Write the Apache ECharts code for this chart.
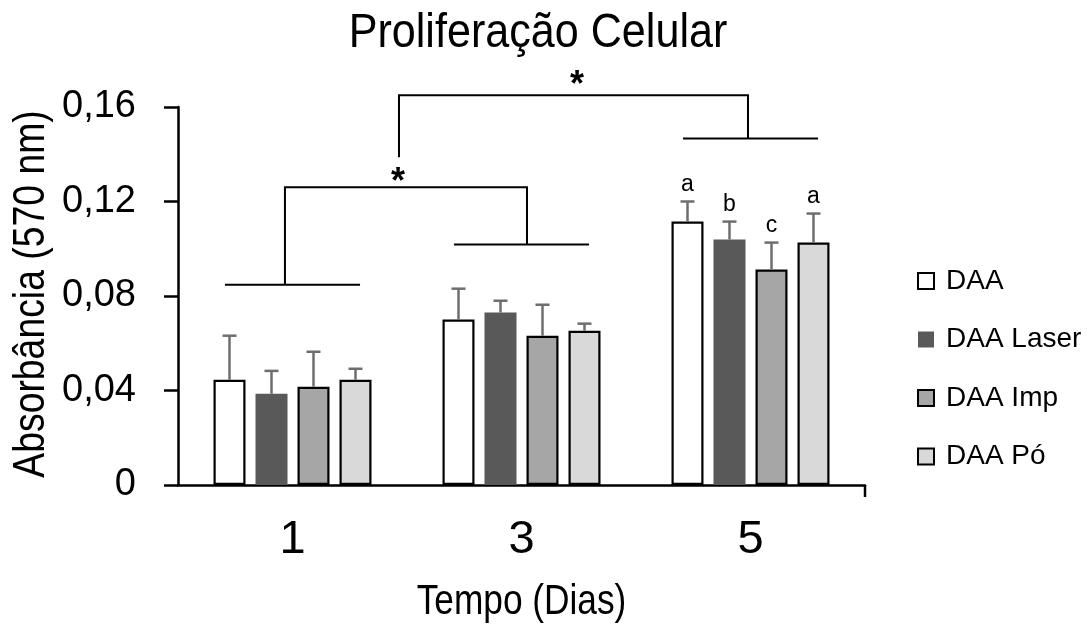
<!DOCTYPE html>
<html>
<head>
<meta charset="utf-8">
<script src="https://cdn.jsdelivr.net/npm/echarts@6/dist/echarts.min.js"></script>
<style>html,body{margin:0;padding:0;background:#fff}#c{width:1091px;height:627px}</style>
</head>
<body>
<div id="c"></div>
<script>
// ---- data ----
const categories = ['1', '3', '5'];
const seriesNames = ['DAA', 'DAA Laser', 'DAA Imp', 'DAA Pó'];
const daa      = [0.0445, 0.0700, 0.1115];
const daaLaser = [0.0386, 0.0730, 0.1039];
const daaImp   = [0.0416, 0.0632, 0.0912];
const daaPo    = [0.0445, 0.0653, 0.1026];
const errDaa      = [0.0187, 0.0131, 0.0085];
const errDaaLaser = [0.0097, 0.0050, 0.0076];
const errDaaImp   = [0.0148, 0.0131, 0.0114];
const errDaaPo    = [0.0047, 0.0030, 0.0123];
const lettersDay5 = ['a', 'b', 'c', 'a'];
const yTickLabels = ['0', '0,04', '0,08', '0,12', '0,16'];
const groupLineLevels = [0.0848, 0.1018, 0.1467];
const bracketTop1 = 0.126, star1Level = 0.1315;
const bracketTop2 = 0.165, bracket2Bottom = 0.1387, star2Level = 0.1726;
const titleText = 'Proliferação Celular';
const xName = 'Tempo (Dias)';
const yName = 'Absorbância (570 nm)';

const values = [daa, daaLaser, daaImp, daaPo];
const errs = [errDaa, errDaaLaser, errDaaImp, errDaaPo];
const colors = ['#ffffff', '#595959', '#a6a6a6', '#d9d9d9'];
const borders = [2.2, 0, 2.2, 2.2];
const REG = "'Liberation Sans', Arial, sans-serif";
const BAR_W = 32, BAR_STEP = 42;

const chart = echarts.init(document.getElementById('c'), null, {renderer: 'canvas'});

const barSeries = values.map((vals, i) => ({
  name: seriesNames[i], type: 'bar', data: vals,
  barWidth: BAR_W, barGap: ((BAR_STEP - BAR_W) / BAR_W * 100) + '%',
  itemStyle: {color: colors[i], borderColor: borders[i] ? '#000' : colors[i], borderWidth: borders[i]},
  emphasis: {disabled: true}, z: 2
}));

const errSeries = values.map((vals, i) => ({
  type: 'custom', clip: false, z: 3,
  data: vals.map((v, k) => [k, v, v + errs[i][k]]),
  renderItem: function (params, api) {
    const k = api.value(0);
    const base = api.coord([k, api.value(1)]);
    const top = api.coord([k, api.value(2)]);
    const x = base[0] + (i - 1.5) * BAR_STEP;
    const st = {stroke: '#6e6e6e', lineWidth: 2.5};
    const children = [
      {type: 'line', shape: {x1: x, y1: base[1], x2: x, y2: top[1]}, style: st},
      {type: 'line', shape: {x1: x - 7, y1: top[1], x2: x + 7, y2: top[1]}, style: st}
    ];
    const lab = k === 2 ? lettersDay5[i] : '';
    if (lab) {
      children.push({type: 'text', x: x, y: top[1] - 5,
        style: {text: lab, font: '23px ' + REG, fill: '#000', align: 'center', verticalAlign: 'bottom'}});
    }
    return {type: 'group', children: children};
  }
}));

const annotSeries = {
  type: 'custom', clip: false, z: 4, data: [[0, 0]],
  renderItem: function (params, api) {
    const band = api.size([1, 0])[0];
    const P = (cat, frac, val) => { const p = api.coord([cat, val]); return [p[0] + frac * band, p[1]]; };
    const ls = {stroke: '#000', lineWidth: 2, fill: null};
    const ch = [];
    const half = 0.295;
    groupLineLevels.forEach((lv, c) => {
      ch.push({type: 'polyline', shape: {points: [P(c, -half, lv), P(c, half, lv)]}, style: ls});
    });
    ch.push({type: 'polyline', shape: {points: [
      P(0, -0.033, groupLineLevels[0]), P(0, -0.033, bracketTop1),
      P(1, 0.024, bracketTop1), P(1, 0.024, groupLineLevels[1])]}, style: ls});
    ch.push({type: 'polyline', shape: {points: [
      P(0, 0.465, bracket2Bottom), P(0, 0.465, bracketTop2),
      P(2, -0.011, bracketTop2), P(2, -0.011, groupLineLevels[2])]}, style: ls});
    const s1 = P(0, 0.461, star1Level), s2 = P(1, 0.242, star2Level);
    [s1, s2].forEach(s => ch.push({type: 'text', x: s[0], y: s[1] + 9,
      style: {text: '*', font: 'bold 36px ' + REG, fill: '#000', align: 'center', verticalAlign: 'middle'}}));
    const e = P(2, 0.5, 0);
    ch.push({type: 'line', shape: {x1: e[0], y1: e[1], x2: e[0], y2: e[1] + 12}, style: {stroke: '#000', lineWidth: 2.5}});
    return {type: 'group', children: ch};
  }
};

chart.setOption({
  animation: false,
  backgroundColor: '#fff',
  graphic: [
    {type: 'text', x: 538, y: 33, scaleX: 0.88, silent: true,
      style: {text: titleText, font: '49px ' + REG, fill: '#000', align: 'center', verticalAlign: 'middle'}},
    {type: 'text', x: 521.5, y: 602, scaleX: 0.82, silent: true,
      style: {text: xName, font: '43px ' + REG, fill: '#000', align: 'center', verticalAlign: 'middle'}},
    {type: 'text', x: 32, y: 294, rotation: Math.PI / 2, scaleX: 0.83, silent: true,
      style: {text: yName, font: '45px ' + REG, fill: '#000', align: 'center', verticalAlign: 'middle'}}
  ],
  legend: {data: seriesNames, orient: 'vertical', left: 917, top: 267, padding: 0,
    itemWidth: 16, itemHeight: 16, itemGap: 30.5, icon: 'rect', selectedMode: false,
    textStyle: {fontFamily: REG, fontSize: 28, color: '#000', lineHeight: 28, padding: [0, 0, 0, 7]}},
  grid: {left: 178, top: 107, width: 687, height: 378, containLabel: false, outerBoundsMode: 'none'},
  xAxis: {type: 'category', data: categories,
    axisLine: {lineStyle: {color: '#000', width: 2.5}},
    axisTick: {alignWithLabel: true, length: 12, lineStyle: {color: '#000', width: 2.5}},
    axisLabel: {fontFamily: REG, fontSize: 47, color: '#000', margin: 32}},
  yAxis: {type: 'value', min: 0, max: 0.16, interval: 0.04,
    axisLine: {show: true, lineStyle: {color: '#000', width: 2.5}},
    axisTick: {show: true, length: 14, lineStyle: {color: '#000', width: 2.5}},
    splitLine: {show: false},
    axisLabel: {fontFamily: REG, fontSize: 38, color: '#000', margin: 42,
      formatter: v => yTickLabels[Math.round(v / 0.04)]}},
  series: [...barSeries, ...errSeries, annotSeries]
});
</script>
</body>
</html>
